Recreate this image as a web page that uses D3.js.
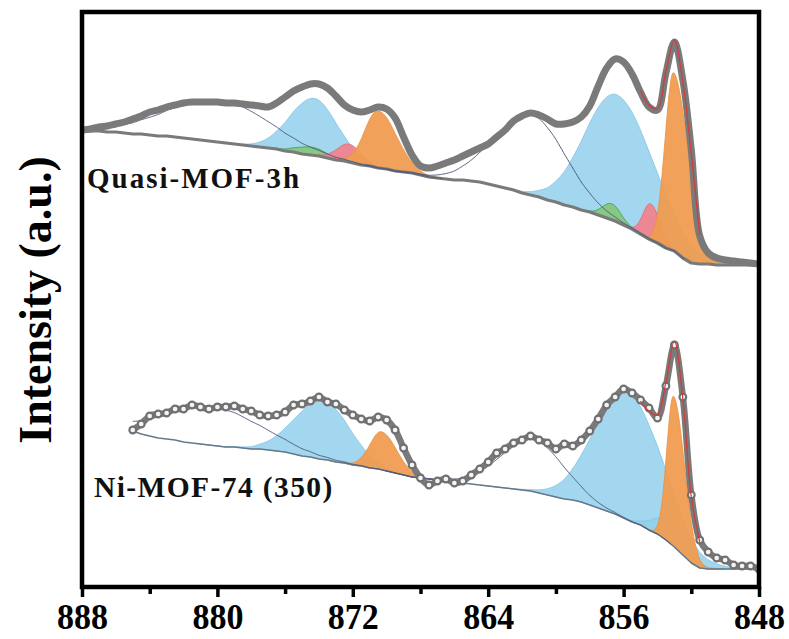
<!DOCTYPE html>
<html>
<head>
<meta charset="utf-8">
<script src="https://cdn.jsdelivr.net/npm/d3@7"></script>
<style>
  html, body { margin: 0; padding: 0; background: #ffffff; }
  svg { display: block; font-family: "Liberation Serif", "Times New Roman", serif; }
</style>
</head>
<body>
<svg id="chart" width="789" height="639"></svg>
<script>
// ---- Ni 2p XPS data -------------------------------------------------------
const xTicks = [888, 880, 872, 864, 856, 848];
const xMinorTicks = [884, 876, 868, 860, 852];
const sampleLabels = ["Quasi-MOF-3h", "Ni-MOF-74 (350)"];
const yTitle = "Intensity (a.u.)";

// Quasi-MOF-3h: counts (a.u., stacked offset) from 888 eV down to 848 eV, 0.5 eV step
const quasiStart = 888;
const quasiCounts = [
  457, 458, 460, 461, 463, 465, 468, 471, 475, 477,
  480, 482, 484, 485, 485, 485, 485, 484, 484, 483,
  482, 481, 480, 484, 490, 496, 500, 503, 503, 499,
  491, 482, 477, 475, 477, 480, 478, 469, 450, 432,
  421, 419, 421, 424, 427, 431, 435, 439, 443, 450,
  457, 466, 471, 474, 472, 468, 463, 463, 465, 470,
  481, 501, 519, 528, 525, 513, 495, 480, 477, 514,
  545, 507, 437, 351, 334, 329, 327, 326, 325, 324,
  323
];
const quasiBackground = [
  457, 456, 456, 455, 455, 454, 453, 453, 452, 451,
  451, 450, 449, 448, 447, 446, 445, 444, 443, 442,
  441, 440, 439, 438, 436, 435, 433, 432, 431, 429,
  427, 426, 424, 422, 421, 419, 418, 416, 415, 414,
  412, 410, 409, 408, 407, 407, 406, 405, 403, 401,
  399, 397, 394, 392, 390, 387, 385, 382, 380, 377,
  375, 372, 369, 366, 362, 358, 353, 348, 344, 339,
  336, 329, 324, 323, 323, 322, 322, 322, 322, 322,
  322
];
// fitted components: [type, centre eV, height, sigma (high-BE side), sigma (low-BE side)]
const quasiPeaks = [
  ["sat",    879.8,  42, 3.2,  2.9],
  ["blue",   874.3,  57, 1.45, 1.4],
  ["green",  874.5,   8, 0.9,  0.9],
  ["red",    872.2,  18, 0.75, 0.7],
  ["orange", 870.5,  57, 0.8,  1.1],
  ["sat",    861.4,  80, 2.2,  2.0],
  ["blue",   856.4, 127, 1.9,  2.2],
  ["green",  856.7,  16, 0.55, 0.55],
  ["red",    854.4,  36, 0.45, 0.55],
  ["orange", 853.05, 178, 0.5, 0.88]
];
// cumulative fit across the main 2p3/2 line, 855 eV down to 851.5 eV, 0.5 eV step
const quasiFitStart = 855;
const quasiFit = [496, 482, 478, 516, 547, 505, 433, 352];

// Ni-MOF-74 (350): counts from 885 eV down to 848 eV, 0.5 eV step
const mofStart = 885;
const mofCounts = [
  157, 163, 171, 173, 174, 178, 178, 182, 180, 178,
  180, 180, 181, 178, 176, 172, 171, 172, 175, 182,
  183, 186, 190, 185, 183, 177, 172, 168, 166, 170,
  167, 157, 139, 122, 109, 102, 106, 108, 104, 106,
  112, 118, 125, 134, 138, 144, 147, 151, 147, 144,
  138, 143, 141, 147, 156, 168, 182, 190, 198, 194,
  187, 179, 169, 201, 242, 190,  92,  47,  35,  29,
   27,  22,  21,  21,  18
];
const mofBackground = [
  156, 153, 151, 149, 148, 147, 145, 144, 143, 142,
  141, 140, 140, 139, 138, 138, 137, 136, 135, 133,
  131, 130, 128, 127, 125, 124, 122, 121, 119, 118,
  116, 114, 112, 110, 109, 108, 107, 106, 105, 104,
  103, 102, 101, 100,  99,  98,  97,  96,  94,  92,
   90,  88,  87,  85,  82,  79,  76,  73,  69,  65,
   62,  57,  53,  47,  40,  32,  24,  19,  18,  18,
   18,  18,  18,  18,  18
];
const mofPeaks = [
  ["sat",    880.5,  39, 2.7,  3.0],
  ["blue",   873.75, 59, 1.68, 1.56],
  ["orange", 870.3,  38, 0.7,  0.9],
  ["sat",    861.3,  52, 1.95, 1.8],
  ["blue",   855.8, 127, 1.92, 2.1],
  ["blue",   853.4,  20, 0.9,  1.1],
  ["orange", 853.05, 150, 0.4, 0.65]
];
const mofFitStart = 855;
const mofFit = [186, 176, 172, 205, 246, 188, 90, 45];

// ---- layout & scales ------------------------------------------------------
const plot = { left: 82, right: 759, top: 12, bottom: 587 };

const x = d3.scaleLinear().domain([888, 848]).range([plot.left, plot.right]);
const y = d3.scaleLinear().domain([0, 575]).range([plot.bottom, plot.top]);

const fills = {
  blue:   { fill: "#93d0ec", stroke: "#7fc2e2", opacity: 0.85 },
  green:  { fill: "#86c77d", stroke: "#2f9a3a", opacity: 0.95 },
  red:    { fill: "#f0838e", stroke: "#e06a78", opacity: 0.95 },
  orange: { fill: "#f09c50", stroke: "#eb8f3e", opacity: 0.95 }
};

const svg = d3.select("#chart");

svg.append("defs").append("clipPath").attr("id", "plot-clip")
  .append("rect")
  .attr("x", plot.left).attr("y", plot.top)
  .attr("width", plot.right - plot.left).attr("height", plot.bottom - plot.top);

const layer = svg.append("g").attr("clip-path", "url(#plot-clip)");

function peakValue(p, e) {
  const c = p[1], h = p[2];
  const s = e > c ? p[3] : p[4];
  return h * Math.exp(-((e - c) * (e - c)) / (2 * s * s));
}

function drawSpectrum(start, counts, background, peaks, fitStart, fit, style) {
  const energies = d3.range(start, 847.75, -0.5);
  const eMax = energies[0], eMin = energies[energies.length - 1];
  const bg = d3.scaleLinear().domain(energies).range(background);
  const g = layer.append("g");

  // filled components, sitting on the background
  ["blue", "green", "red", "orange"].forEach(kind => {
    peaks.filter(p => p[0] === kind).forEach(p => {
      const hi = Math.min(eMax, p[1] + 4.5 * p[3]);
      const lo = Math.max(eMin, p[1] - 4.5 * p[4]);
      const es = d3.range(hi, lo - 0.001, -0.04);
      const area = d3.area()
        .x(e => x(e))
        .y0(e => y(bg(e)))
        .y1(e => y(bg(e) + peakValue(p, e)));
      g.append("path")
        .attr("d", area(es))
        .attr("fill", fills[kind].fill)
        .attr("fill-opacity", fills[kind].opacity)
        .attr("stroke", fills[kind].stroke)
        .attr("stroke-width", 0.8);
    });
  });

  // background line
  g.append("path")
    .attr("d", d3.line().x((d, i) => x(energies[i])).y(d => y(d))(background))
    .attr("fill", "none")
    .attr("stroke", style.bgColor)
    .attr("stroke-width", style.bgWidth)
    .attr("stroke-linejoin", "round");

  // satellite components (outline only)
  peaks.filter(p => p[0] === "sat").forEach(p => {
    const hi = Math.min(eMax, p[1] + 4.5 * p[3]);
    const lo = Math.max(eMin, p[1] - 4.5 * p[4]);
    const es = d3.range(hi, lo - 0.001, -0.05);
    g.append("path")
      .attr("d", d3.line().x(e => x(e)).y(e => y(bg(e) + peakValue(p, e)))(es))
      .attr("fill", "none")
      .attr("stroke", "#4e5b7c")
      .attr("stroke-width", 1);
  });

  // measured spectrum
  const dataLine = d3.line()
    .x((d, i) => x(energies[i]))
    .y(d => y(d))
    .curve(d3.curveCatmullRom.alpha(0.5));
  g.append("path")
    .attr("d", dataLine(counts))
    .attr("fill", "none")
    .attr("stroke", "#7a7a7a")
    .attr("stroke-width", style.dataWidth)
    .attr("stroke-linejoin", "round")
    .attr("stroke-linecap", "round");

  if (style.markers) {
    g.selectAll("circle.pt")
      .data(counts)
      .join("circle")
      .attr("class", "pt")
      .attr("cx", (d, i) => x(energies[i]))
      .attr("cy", d => y(d))
      .attr("r", 3.4)
      .attr("fill", "#f4f4f4")
      .attr("stroke", "#707070")
      .attr("stroke-width", 2.1);
  }

  // cumulative fit over the main Ni 2p3/2 line
  const fitE = fit.map((d, i) => fitStart - 0.5 * i);
  g.append("path")
    .attr("d", d3.line()
      .x((d, i) => x(fitE[i]))
      .y(d => y(d))
      .curve(d3.curveCatmullRom.alpha(0.5))(fit))
    .attr("fill", "none")
    .attr("stroke", "#d13b3b")
    .attr("stroke-width", 1.2);
}

drawSpectrum(quasiStart, quasiCounts, quasiBackground, quasiPeaks, quasiFitStart, quasiFit,
  { bgColor: "#7a7a7a", bgWidth: 3.2, dataWidth: 7, markers: false });
drawSpectrum(mofStart, mofCounts, mofBackground, mofPeaks, mofFitStart, mofFit,
  { bgColor: "#66788a", bgWidth: 1.5, dataWidth: 6.5, markers: true });

// ---- sample labels --------------------------------------------------------
svg.append("text")
  .attr("x", 87).attr("y", 188)
  .attr("font-size", 29).attr("font-weight", "bold")
  .attr("letter-spacing", 2)
  .attr("fill", "#111")
  .text(sampleLabels[0]);
svg.append("text")
  .attr("x", 94).attr("y", 497)
  .attr("font-size", 29.5).attr("font-weight", "bold")
  .attr("letter-spacing", 1.4)
  .attr("fill", "#111")
  .text(sampleLabels[1]);

// ---- frame and axis -------------------------------------------------------
svg.append("rect")
  .attr("x", plot.left).attr("y", plot.top)
  .attr("width", plot.right - plot.left).attr("height", plot.bottom - plot.top)
  .attr("fill", "none").attr("stroke", "#000").attr("stroke-width", 4.5);

const minorAxis = svg.append("g")
  .attr("transform", `translate(0,${plot.bottom})`)
  .call(d3.axisBottom(x).tickValues(xMinorTicks).tickSize(7).tickFormat(""));
minorAxis.select(".domain").remove();
minorAxis.selectAll(".tick line").attr("stroke", "#000").attr("stroke-width", 3.5);

const majorAxis = svg.append("g")
  .attr("transform", `translate(0,${plot.bottom})`)
  .call(d3.axisBottom(x).tickValues(xTicks).tickSize(10).tickFormat(d3.format("d")));
majorAxis.select(".domain").remove();
majorAxis.selectAll(".tick line").attr("stroke", "#000").attr("stroke-width", 3.5);
majorAxis.selectAll(".tick text")
  .attr("y", 42).attr("dy", null)
  .attr("font-family", "'Liberation Serif', 'Times New Roman', serif")
  .attr("font-size", 36).attr("font-weight", "bold")
  .attr("fill", "#000")
  .attr("textLength", 51).attr("lengthAdjust", "spacingAndGlyphs");

// ---- y title --------------------------------------------------------------
svg.append("text")
  .attr("transform", "translate(51,300) rotate(-90)")
  .attr("text-anchor", "middle")
  .attr("font-size", 46).attr("font-weight", "bold")
  .attr("fill", "#000")
  .text(yTitle);
</script>
</body>
</html>
